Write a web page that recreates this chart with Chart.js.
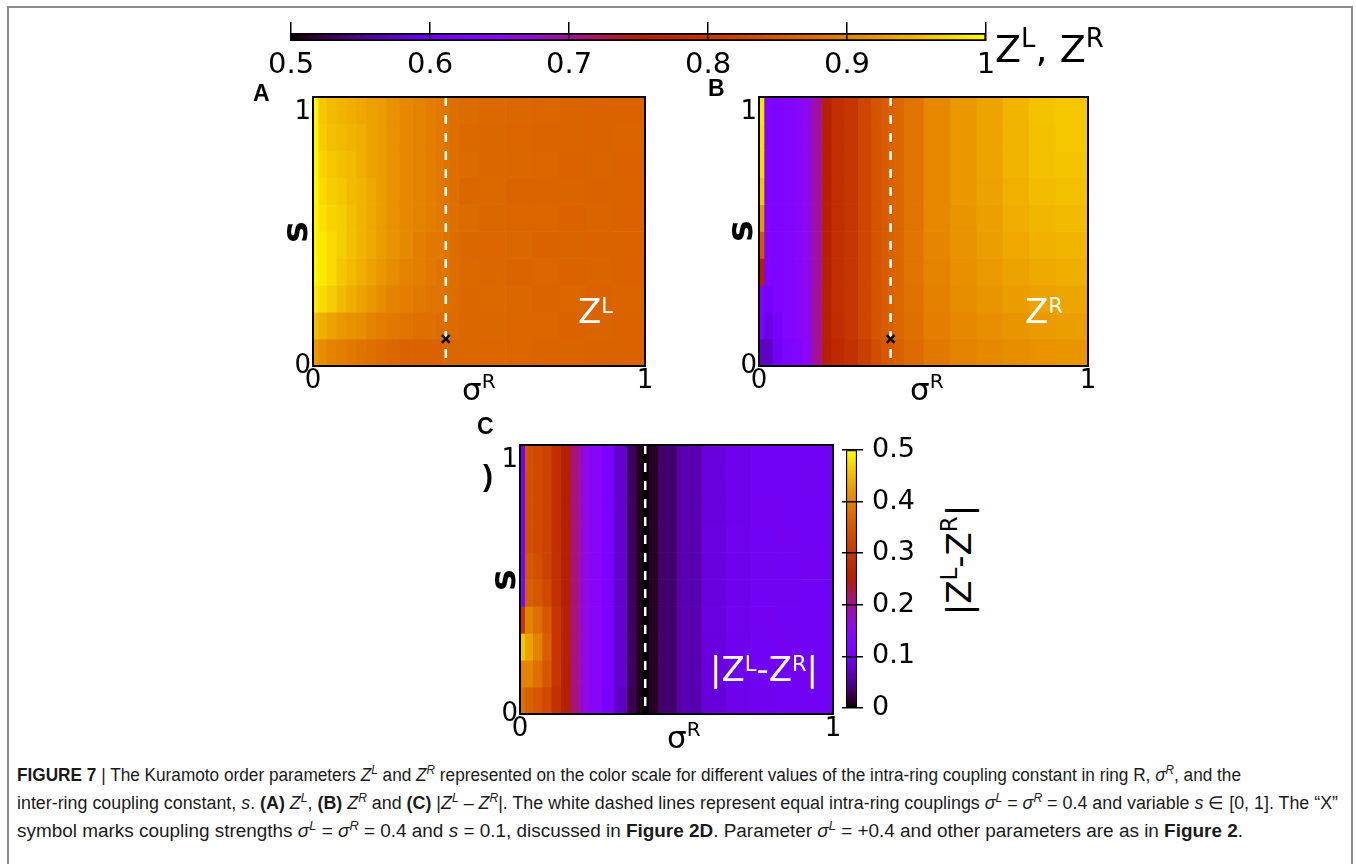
<!DOCTYPE html>
<html lang="en">
<head>
<meta charset="utf-8">
<title>Kuramoto order parameters Z^L and Z^R</title>
<script src="https://cdn.jsdelivr.net/npm/chart.js@4.4.1/dist/chart.umd.min.js"></script>
<style>
  html, body { margin: 0; padding: 0; background: #fff; }
  body { position: relative; width: 1356px; height: 864px; overflow: hidden; font-family: "DejaVu Sans", sans-serif; color: #000; }
  .border { position: absolute; left: 7px; top: 6px; width: 1346px; height: 940px; border: 2px solid #8c8c8c; box-sizing: border-box; }
  canvas { position: absolute; }
  .lbl { position: absolute; white-space: nowrap; line-height: 1; }
  .panel { font-family: "Liberation Sans", Arial, sans-serif; font-weight: bold; font-size: 23px; }
  .rot { transform: translate(-50%, -50%) rotate(-90deg); transform-origin: 50% 50%; }
  .svar { font-weight: bold; font-size: 36px; }
  .sig { font-size: 31px; }
  .sig .up { font-size: 20px; position: relative; top: -12px; }
  .inplot { color: #fff; font-size: 34px; }
  .inplot .up { font-size: 21px; position: relative; top: -10px; }
  .cbtitle { font-size: 34px; }
  .cbtitle .up { font-size: 23px; position: relative; top: -14px; }
  .cbtop { font-size: 38px; }
  .cbtop .up { font-size: 26px; position: relative; top: -15px; }
  .paren { font-family: "Liberation Sans", Arial, sans-serif; font-weight: bold; font-size: 30px; }
  .cap { position: absolute; left: 17px; white-space: nowrap; font-family: "Liberation Sans Narrow", "Liberation Sans", Arial, sans-serif; font-size: 18px; line-height: 1; transform-origin: 0 0; color: #1a1a1a; }
  .cap sup { font-size: 0.68em; line-height: 0; vertical-align: 0.55em; }
  .cap .vbar { font-weight: normal; }
</style>
</head>
<body>
<div class="border"></div>

<canvas id="cbOrder"></canvas>
<canvas id="heatA"></canvas>
<canvas id="heatB"></canvas>
<canvas id="heatC"></canvas>
<canvas id="cbDiff"></canvas>

<div class="lbl cbtop" style="left:995px; top:30px;">Z<span class="up">L</span>, Z<span class="up">R</span></div>

<div class="lbl panel" style="left:253px; top:82px;">A</div>
<div class="lbl panel" style="left:708px; top:77px;">B</div>
<div class="lbl panel" style="left:477px; top:415px;">C</div>

<div class="lbl svar rot" style="left:295px; top:232px;">s</div>
<div class="lbl svar rot" style="left:740px; top:231px;">s</div>
<div class="lbl svar rot" style="left:503px; top:580px;">s</div>

<div class="lbl sig" style="left:462px; top:374px;">σ<span class="up">R</span></div>
<div class="lbl sig" style="left:910px; top:374px;">σ<span class="up">R</span></div>
<div class="lbl sig" style="left:667px; top:722px;">σ<span class="up">R</span></div>

<div class="lbl inplot" style="left:578px; top:294px;">Z<span class="up">L</span></div>
<div class="lbl inplot" style="left:1025px; top:294px;">Z<span class="up">R</span></div>
<div class="lbl inplot" style="left:710px; top:652px;">|Z<span class="up">L</span>-Z<span class="up">R</span>|</div>

<div class="lbl cbtitle rot" style="left:959px; top:560px;">|Z<span class="up">L</span>-Z<span class="up">R</span>|</div>
<div class="lbl paren" style="left:483px; top:461px;">)</div>

<div class="cap" data-right="1241" style="top:766px;"><b>FIGURE 7</b> <span class="vbar">|</span> The Kuramoto order parameters <i>Z<sup>L</sup></i> and <i>Z<sup>R</sup></i> represented on the color scale for different values of the intra-ring coupling constant in ring R, <i>σ<sup>R</sup></i>, and the</div>
<div class="cap" data-right="1338" style="top:794px;">inter-ring coupling constant, <i>s</i>. <b>(A)</b> <i>Z<sup>L</sup></i>, <b>(B)</b> <i>Z<sup>R</sup></i> and <b>(C)</b> |<i>Z<sup>L</sup></i> – <i>Z<sup>R</sup></i>|. The white dashed lines represent equal intra-ring couplings <i>σ<sup>L</sup></i> = <i>σ<sup>R</sup></i> = 0.4 and variable <i>s</i> ∈ [0, 1]. The “X”</div>
<div class="cap" data-right="1243" style="top:822px;">symbol marks coupling strengths <i>σ<sup>L</sup></i> = <i>σ<sup>R</sup></i> = 0.4 and <i>s</i> = 0.1, discussed in <b>Figure 2D</b>. Parameter <i>σ<sup>L</sup></i> = +0.4 and other parameters are as in <b>Figure 2</b>.</div>

<script>
// ---------------------------------------------------------------
// Grid: column edges along sigma^R and row centres along s
// ---------------------------------------------------------------
const sigmaEdges = [0, 0.015, 0.04, 0.07, 0.10, 0.13, 0.16, 0.19, 0.22, 0.26, 0.30,
                    0.34, 0.37, 0.39, 0.41, 0.44, 0.50, 0.58, 0.66, 0.74, 0.82, 0.90, 1.00];
const sRows = [0.05, 0.15, 0.25, 0.35, 0.45, 0.55, 0.65, 0.75, 0.85, 0.95];

// Z^L, one list per sigma^R column, from s = 0.05 (bottom) to s = 0.95 (top)
const zLeft = [
  [0.92, 0.95, 0.985, 0.995, 0.995, 0.995, 0.995, 0.995, 0.995, 0.995],
  [0.91, 0.94, 0.975, 0.985, 0.985, 0.98, 0.975, 0.97, 0.965, 0.96],
  [0.90, 0.93, 0.965, 0.975, 0.975, 0.97, 0.965, 0.96, 0.955, 0.95],
  [0.895, 0.92, 0.95, 0.96, 0.965, 0.965, 0.96, 0.955, 0.95, 0.945],
  [0.89, 0.915, 0.94, 0.95, 0.955, 0.955, 0.95, 0.95, 0.945, 0.94],
  [0.885, 0.91, 0.93, 0.94, 0.945, 0.945, 0.945, 0.94, 0.94, 0.935],
  [0.88, 0.90, 0.92, 0.93, 0.935, 0.935, 0.935, 0.93, 0.93, 0.93],
  [0.875, 0.895, 0.91, 0.92, 0.925, 0.925, 0.925, 0.925, 0.925, 0.925],
  [0.87, 0.89, 0.90, 0.91, 0.915, 0.915, 0.915, 0.915, 0.915, 0.915],
  [0.865, 0.885, 0.895, 0.90, 0.905, 0.905, 0.905, 0.905, 0.905, 0.905],
  [0.865, 0.88, 0.89, 0.895, 0.895, 0.90, 0.90, 0.90, 0.90, 0.90],
  [0.865, 0.88, 0.885, 0.89, 0.89, 0.895, 0.895, 0.895, 0.895, 0.895],
  [0.865, 0.875, 0.885, 0.885, 0.89, 0.89, 0.89, 0.89, 0.89, 0.89],
  [0.87, 0.875, 0.88, 0.885, 0.885, 0.885, 0.885, 0.885, 0.885, 0.885],
  [0.87, 0.875, 0.878, 0.878, 0.878, 0.88, 0.88, 0.88, 0.88, 0.88],
  [0.87, 0.87, 0.87, 0.872, 0.87, 0.875, 0.87, 0.875, 0.872, 0.875],
  [0.868, 0.87, 0.872, 0.87, 0.868, 0.87, 0.872, 0.87, 0.87, 0.872],
  [0.868, 0.868, 0.87, 0.866, 0.87, 0.868, 0.866, 0.87, 0.868, 0.87],
  [0.866, 0.868, 0.866, 0.868, 0.865, 0.868, 0.866, 0.868, 0.866, 0.868],
  [0.866, 0.865, 0.868, 0.865, 0.866, 0.864, 0.866, 0.865, 0.866, 0.866],
  [0.865, 0.866, 0.864, 0.866, 0.865, 0.866, 0.864, 0.866, 0.865, 0.864],
  [0.864, 0.865, 0.866, 0.864, 0.865, 0.864, 0.865, 0.864, 0.866, 0.865]
];

// Z^R, same layout
const zRight = [
  [0.57, 0.62, 0.63, 0.75, 0.85, 0.92, 0.96, 0.975, 0.98, 0.985],
  [0.57, 0.59, 0.61, 0.625, 0.625, 0.625, 0.625, 0.625, 0.625, 0.625],
  [0.60, 0.61, 0.62, 0.62, 0.62, 0.62, 0.62, 0.62, 0.62, 0.62],
  [0.62, 0.625, 0.625, 0.625, 0.625, 0.625, 0.625, 0.625, 0.625, 0.625],
  [0.63, 0.635, 0.635, 0.635, 0.635, 0.635, 0.635, 0.635, 0.635, 0.635],
  [0.65, 0.655, 0.655, 0.655, 0.655, 0.655, 0.655, 0.655, 0.655, 0.655],
  [0.70, 0.70, 0.70, 0.695, 0.695, 0.695, 0.695, 0.695, 0.695, 0.695],
  [0.75, 0.755, 0.755, 0.755, 0.755, 0.755, 0.755, 0.755, 0.755, 0.755],
  [0.775, 0.78, 0.785, 0.785, 0.785, 0.785, 0.785, 0.785, 0.785, 0.785],
  [0.79, 0.80, 0.80, 0.80, 0.80, 0.80, 0.80, 0.80, 0.80, 0.80],
  [0.815, 0.825, 0.825, 0.825, 0.825, 0.825, 0.825, 0.825, 0.825, 0.825],
  [0.835, 0.845, 0.845, 0.845, 0.845, 0.845, 0.845, 0.845, 0.845, 0.845],
  [0.85, 0.855, 0.855, 0.855, 0.855, 0.855, 0.855, 0.855, 0.855, 0.855],
  [0.855, 0.862, 0.862, 0.862, 0.862, 0.862, 0.862, 0.862, 0.862, 0.862],
  [0.862, 0.87, 0.87, 0.87, 0.87, 0.87, 0.87, 0.87, 0.87, 0.87],
  [0.875, 0.88, 0.882, 0.885, 0.885, 0.885, 0.885, 0.885, 0.885, 0.885],
  [0.89, 0.895, 0.898, 0.90, 0.902, 0.905, 0.905, 0.905, 0.905, 0.905],
  [0.90, 0.905, 0.91, 0.913, 0.916, 0.918, 0.92, 0.92, 0.92, 0.92],
  [0.905, 0.912, 0.918, 0.922, 0.926, 0.928, 0.93, 0.932, 0.932, 0.932],
  [0.91, 0.918, 0.925, 0.93, 0.935, 0.94, 0.942, 0.945, 0.945, 0.946],
  [0.915, 0.923, 0.93, 0.937, 0.943, 0.948, 0.952, 0.955, 0.956, 0.957],
  [0.918, 0.926, 0.933, 0.94, 0.946, 0.951, 0.955, 0.958, 0.96, 0.96]
];

// |Z^L - Z^R|, same layout
const zDiff = [
  [0.38, 0.40, 0.46, 0.30, 0.12, 0.11, 0.11, 0.11, 0.11, 0.10],
  [0.36, 0.40, 0.43, 0.40, 0.36, 0.35, 0.34, 0.34, 0.34, 0.34],
  [0.35, 0.38, 0.40, 0.38, 0.35, 0.34, 0.33, 0.33, 0.33, 0.33],
  [0.33, 0.35, 0.36, 0.35, 0.33, 0.32, 0.32, 0.32, 0.32, 0.32],
  [0.29, 0.30, 0.30, 0.30, 0.29, 0.29, 0.285, 0.285, 0.285, 0.285],
  [0.25, 0.25, 0.255, 0.255, 0.25, 0.25, 0.25, 0.25, 0.25, 0.25],
  [0.21, 0.21, 0.21, 0.21, 0.21, 0.21, 0.21, 0.21, 0.21, 0.21],
  [0.165, 0.165, 0.165, 0.165, 0.165, 0.165, 0.165, 0.165, 0.165, 0.165],
  [0.14, 0.14, 0.14, 0.14, 0.14, 0.14, 0.14, 0.14, 0.14, 0.14],
  [0.11, 0.115, 0.115, 0.115, 0.115, 0.115, 0.115, 0.115, 0.115, 0.115],
  [0.07, 0.075, 0.075, 0.075, 0.075, 0.075, 0.075, 0.075, 0.075, 0.075],
  [0.025, 0.03, 0.03, 0.03, 0.03, 0.03, 0.03, 0.03, 0.03, 0.03],
  [0.008, 0.008, 0.008, 0.008, 0.008, 0.008, 0.008, 0.008, 0.008, 0.008],
  [0.0, 0.0, 0.0, 0.0, 0.0, 0.0, 0.0, 0.0, 0.0, 0.0],
  [0.012, 0.012, 0.012, 0.012, 0.012, 0.012, 0.012, 0.012, 0.012, 0.012],
  [0.035, 0.035, 0.035, 0.035, 0.035, 0.035, 0.035, 0.035, 0.035, 0.035],
  [0.06, 0.06, 0.06, 0.06, 0.06, 0.06, 0.06, 0.06, 0.06, 0.06],
  [0.082, 0.085, 0.085, 0.086, 0.085, 0.085, 0.086, 0.085, 0.085, 0.085],
  [0.093, 0.095, 0.095, 0.096, 0.095, 0.094, 0.096, 0.095, 0.095, 0.095],
  [0.098, 0.10, 0.10, 0.101, 0.10, 0.099, 0.10, 0.101, 0.10, 0.10],
  [0.10, 0.10, 0.101, 0.10, 0.099, 0.10, 0.101, 0.10, 0.10, 0.10],
  [0.10, 0.101, 0.10, 0.10, 0.10, 0.101, 0.10, 0.10, 0.099, 0.10]
];

// Axis and colour-bar ticks
const axisTicks = [0, 1];
const axisTickLabels = ['0', '1'];
const orderTicks = [0.5, 0.6, 0.7, 0.8, 0.9, 1];
const orderTickLabels = ['0.5', '0.6', '0.7', '0.8', '0.9', '1'];
const diffTicks = [0, 0.1, 0.2, 0.3, 0.4, 0.5];
const diffTickLabels = ['0', '0.1', '0.2', '0.3', '0.4', '0.5'];

// Equal intra-ring couplings (dashed line) and the marked point
const equalCoupling = 0.4;
const markedPoint = { sigma: 0.4, s: 0.1 };

// ---------------------------------------------------------------
// gnuplot default palette (rgbformulae 7,5,15)
// ---------------------------------------------------------------
function gnuplotColor(t) {
  t = Math.min(1, Math.max(0, t));
  const r = Math.sqrt(t);
  const g = t * t * t;
  const b = Math.max(0, Math.sin(2 * Math.PI * t));
  return `rgb(${Math.round(255 * r)},${Math.round(255 * g)},${Math.round(255 * b)})`;
}

function paletteGradient(ctx, x0, y0, x1, y1) {
  const g = ctx.createLinearGradient(x0, y0, x1, y1);
  const n = 64;
  for (let i = 0; i <= n; i++) g.addColorStop(i / n, gnuplotColor(i / n));
  return g;
}

// Position a canvas so that its plot area lands on `area`, leaving margins `m`
function placeCanvas(id, area, m) {
  const c = document.getElementById(id);
  const w = area.r - area.l + m.l + m.r;
  const h = area.b - area.t + m.t + m.b;
  c.width = w; c.height = h;
  c.style.left = (area.l - m.l) + 'px';
  c.style.top = (area.t - m.t) + 'px';
  c.style.width = w + 'px';
  c.style.height = h + 'px';
  return c;
}

const framePlugin = {
  id: 'frame',
  afterDatasetsDraw(chart) {
    const { ctx, chartArea: a } = chart;
    ctx.save();
    ctx.strokeStyle = '#000';
    ctx.lineWidth = 2;
    ctx.strokeRect(a.left, a.top, a.right - a.left, a.bottom - a.top);
    ctx.restore();
  }
};

const quiet = { legend: { display: false }, tooltip: { enabled: false } };

function fixedTicks(values) {
  return sc => { sc.ticks = values.map(v => ({ value: v })); };
}

// ---------------------------------------------------------------
// Heat map panel: floating horizontal bars, one dataset per column
// ---------------------------------------------------------------
function heatmap(id, area, columns, range, withMarker) {
  const m = { l: 56, t: 40, r: 22, b: 46 };
  const canvas = placeCanvas(id, area, m);
  const datasets = columns.map((col, i) => ({
    type: 'bar',
    data: sRows.map(s => ({ y: s, x: [sigmaEdges[i], sigmaEdges[i + 1]] })),
    backgroundColor: col.map(v => gnuplotColor((v - range[0]) / (range[1] - range[0]))),
    borderWidth: 0,
    grouped: false,
    barPercentage: 1,
    categoryPercentage: 1,
    order: 3
  }));
  datasets.push({
    type: 'line',
    data: [{ x: equalCoupling, y: 1 }, { x: equalCoupling, y: 0 }],
    borderColor: '#ffffff',
    borderWidth: 2.5,
    borderDash: [9, 9],
    pointRadius: 0,
    fill: false,
    order: 1
  });
  if (withMarker) {
    datasets.push({
      type: 'scatter',
      data: [{ x: markedPoint.sigma, y: markedPoint.s }],
      pointStyle: 'crossRot',
      pointRadius: 5.5,
      borderColor: '#000',
      backgroundColor: '#000',
      borderWidth: 2.5,
      order: 0
    });
  }
  const tickFont = { family: 'DejaVu Sans', size: 26 };
  return new Chart(canvas, {
    type: 'bar',
    data: { datasets },
    options: {
      indexAxis: 'y',
      responsive: false,
      animation: false,
      events: [],
      layout: { padding: { left: 0, top: m.t, right: m.r, bottom: 0 } },
      plugins: quiet,
      scales: {
        x: {
          type: 'linear', min: 0, max: 1, offset: false,
          afterBuildTicks: fixedTicks(axisTicks),
          afterFit: sc => { sc.height = m.b; },
          ticks: { callback: (v, i) => axisTickLabels[i], font: tickFont, color: '#000',
                   padding: 0, maxRotation: 0, autoSkip: false },
          grid: { display: false, drawTicks: false },
          border: { display: false }
        },
        y: {
          type: 'linear', min: 0, max: 1, offset: false,
          afterBuildTicks: fixedTicks(axisTicks),
          afterFit: sc => { sc.width = m.l; },
          // the top label sits just inside the frame, below its tick
          ticks: { callback: (v, i) => (i === axisTicks.length - 1 ? ['', axisTickLabels[i]] : axisTickLabels[i]),
                   font: tickFont, color: '#000', padding: 2, autoSkip: false },
          grid: { display: false, drawTicks: false, offset: false },
          border: { display: false }
        }
      }
    },
    plugins: [framePlugin]
  });
}

heatmap('heatA', { l: 313, t: 97, r: 645, b: 366 }, zLeft, [0.5, 1], true);
heatmap('heatB', { l: 759, t: 97, r: 1088, b: 366 }, zRight, [0.5, 1], true);
heatmap('heatC', { l: 520, t: 445, r: 833, b: 714 }, zDiff, [0, 0.5], false);

// ---------------------------------------------------------------
// Horizontal colour bar for Z^L, Z^R
// ---------------------------------------------------------------
(function orderColorbar() {
  const area = { l: 291, t: 33, r: 986, b: 41 };
  const m = { l: 30, t: 26, r: 34, b: 46 };
  const canvas = placeCanvas('cbOrder', area, m);
  const lo = orderTicks[0], hi = orderTicks[orderTicks.length - 1];
  new Chart(canvas, {
    type: 'bar',
    data: {
      labels: [''],
      datasets: [{
        data: [[lo, hi]],
        backgroundColor: c => {
          const a = c.chart.chartArea;
          if (!a) return '#000';
          return paletteGradient(c.chart.ctx, a.left, 0, a.right, 0);
        },
        borderColor: '#000',
        borderWidth: 2,
        borderSkipped: false,
        barPercentage: 1,
        categoryPercentage: 1
      }]
    },
    options: {
      indexAxis: 'y',
      responsive: false,
      animation: false,
      events: [],
      layout: { padding: { left: m.l, right: m.r, top: m.t - 11, bottom: 0 } },
      plugins: quiet,
      scales: {
        y: { type: 'category', display: false },
        x: {
          type: 'linear', position: 'bottom', min: lo, max: hi,
          afterBuildTicks: fixedTicks(orderTicks),
          afterFit: sc => { sc.height = m.b; },
          ticks: { callback: (v, i) => orderTickLabels[i], font: { family: 'DejaVu Sans', size: 29 },
                   color: '#000', padding: 7, maxRotation: 0, autoSkip: false },
          grid: { display: false, drawTicks: false },
          border: { display: false }
        },
        xMarks: {
          type: 'linear', position: 'top', min: lo, max: hi,
          afterBuildTicks: fixedTicks(orderTicks),
          afterFit: sc => { sc.height = 11; },
          ticks: { display: false },
          grid: { display: true, drawOnChartArea: true, drawTicks: true, tickLength: 11,
                  color: '#000', lineWidth: 1.5, z: 1 },
          border: { display: false }
        }
      }
    }
  });
})();

// ---------------------------------------------------------------
// Vertical colour bar for |Z^L - Z^R|
// ---------------------------------------------------------------
(function diffColorbar() {
  const area = { l: 846, t: 445, r: 857, b: 713 };
  const m = { l: 14, t: 20, r: 70, b: 20 };
  const canvas = placeCanvas('cbDiff', area, m);
  const lo = diffTicks[0], hi = diffTicks[diffTicks.length - 1];
  new Chart(canvas, {
    type: 'bar',
    data: {
      labels: [''],
      datasets: [{
        data: [[lo, hi]],
        backgroundColor: c => {
          const a = c.chart.chartArea;
          if (!a) return '#000';
          return paletteGradient(c.chart.ctx, 0, a.bottom, 0, a.top);
        },
        borderColor: '#000',
        borderWidth: 1.5,
        borderSkipped: false,
        barPercentage: 1,
        categoryPercentage: 1
      }]
    },
    options: {
      responsive: false,
      animation: false,
      events: [],
      layout: { padding: { left: m.l - 4, right: m.r - 65, top: m.t, bottom: m.b } },
      plugins: quiet,
      scales: {
        x: { type: 'category', display: false },
        y: {
          type: 'linear', position: 'right', min: lo, max: hi,
          afterBuildTicks: fixedTicks(diffTicks),
          afterFit: sc => { sc.width = 65; },
          ticks: { callback: (v, i) => diffTickLabels[i], font: { family: 'DejaVu Sans', size: 27 },
                   color: '#000', padding: 9, autoSkip: false },
          grid: { display: true, drawOnChartArea: false, drawTicks: true, tickLength: 6,
                  color: '#000', lineWidth: 1.5 },
          border: { display: false }
        },
        yMarks: {
          type: 'linear', position: 'left', min: lo, max: hi,
          afterBuildTicks: fixedTicks(diffTicks),
          afterFit: sc => { sc.width = 4; },
          ticks: { display: false },
          grid: { display: true, drawOnChartArea: true, drawTicks: true, tickLength: 4,
                  color: '#000', lineWidth: 1.5, z: 1 },
          border: { display: false }
        }
      }
    }
  });
})();

// Caption: condense each line so it ends at its right edge
function fitCaption() {
  document.querySelectorAll('.cap').forEach(l => {
    l.style.transform = 'none';
    const w = l.getBoundingClientRect().width;
    const target = Number(l.dataset.right) - 17;
    l.style.transform = `scaleX(${target / w})`;
  });
}
fitCaption();
if (document.fonts && document.fonts.ready) document.fonts.ready.then(fitCaption);
</script>
</body>
</html>
